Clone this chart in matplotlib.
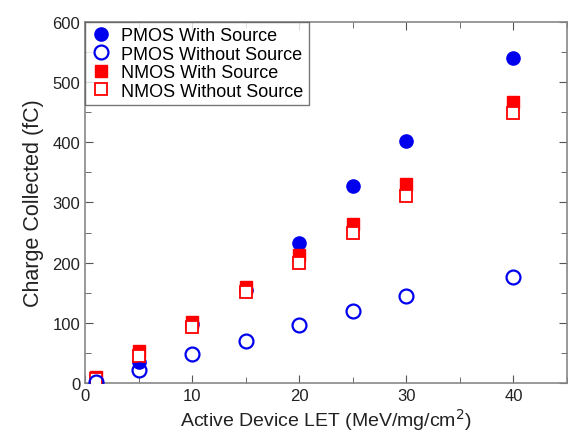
import matplotlib
matplotlib.use("Agg")
import matplotlib.pyplot as plt
from matplotlib.ticker import MultipleLocator

plt.rcParams['font.family'] = ['Liberation Sans', 'DejaVu Sans']

let = [1, 5, 10, 15, 20, 25, 30, 40]
pmos_with = [3, 35, 98, 155, 233, 327, 402, 540]
pmos_without = [2, 22, 48, 70, 97, 120, 145, 177]
nmos_with = [10, 53, 101, 160, 213, 265, 330, 467]
nmos_without = [7, 45, 93, 152, 200, 250, 310, 448]

fig = plt.figure(figsize=(5.71, 4.39), dpi=100)
ax = fig.add_axes([0.149, 0.125, 0.844, 0.823])

ax.plot(let, pmos_with, 'o', color='#0000ee', markersize=9.5, label='PMOS With Source', zorder=2)
ax.plot(let, pmos_without, 'o', mfc='none', mec='#0000ee', mew=1.6, markersize=10, label='PMOS Without Source', zorder=5)
ax.plot(let, nmos_with, 's', color='#ff0000', markersize=8.5, label='NMOS With Source', zorder=3)
ax.plot(let, nmos_without, 's', mfc='white', mec='#ff0000', mew=1.3, markersize=8.5, label='NMOS Without Source', zorder=4)

ax.set_xlim(0, 45)
ax.set_ylim(0, 600)
ax.xaxis.set_major_locator(MultipleLocator(10))
ax.xaxis.set_minor_locator(MultipleLocator(5))
ax.yaxis.set_major_locator(MultipleLocator(100))
ax.yaxis.set_minor_locator(MultipleLocator(50))
ax.tick_params(which='both', direction='in', top=True, right=True, colors='#555555', labelcolor='#222222', labelsize=12)
ax.tick_params(which='major', length=6)
ax.tick_params(which='minor', length=4)
for s in ax.spines.values():
    s.set_color('#888888')
    s.set_linewidth(1.2)

ax.set_xlabel('Active Device LET (MeV/mg/cm$^2$)', fontsize=14, color='#222222', labelpad=2)
ax.set_ylabel('Charge Collected (fC)', fontsize=15.5, color='#222222', labelpad=6)

leg = ax.legend(loc='upper left', fontsize=13, frameon=True, fancybox=False, borderaxespad=0,
                handletextpad=0.5, labelspacing=0.08, borderpad=0.3, handlelength=1.2)
leg.get_frame().set_edgecolor('#555555')
leg.get_frame().set_linewidth(1.0)

fig.savefig('out.png', dpi=100)
